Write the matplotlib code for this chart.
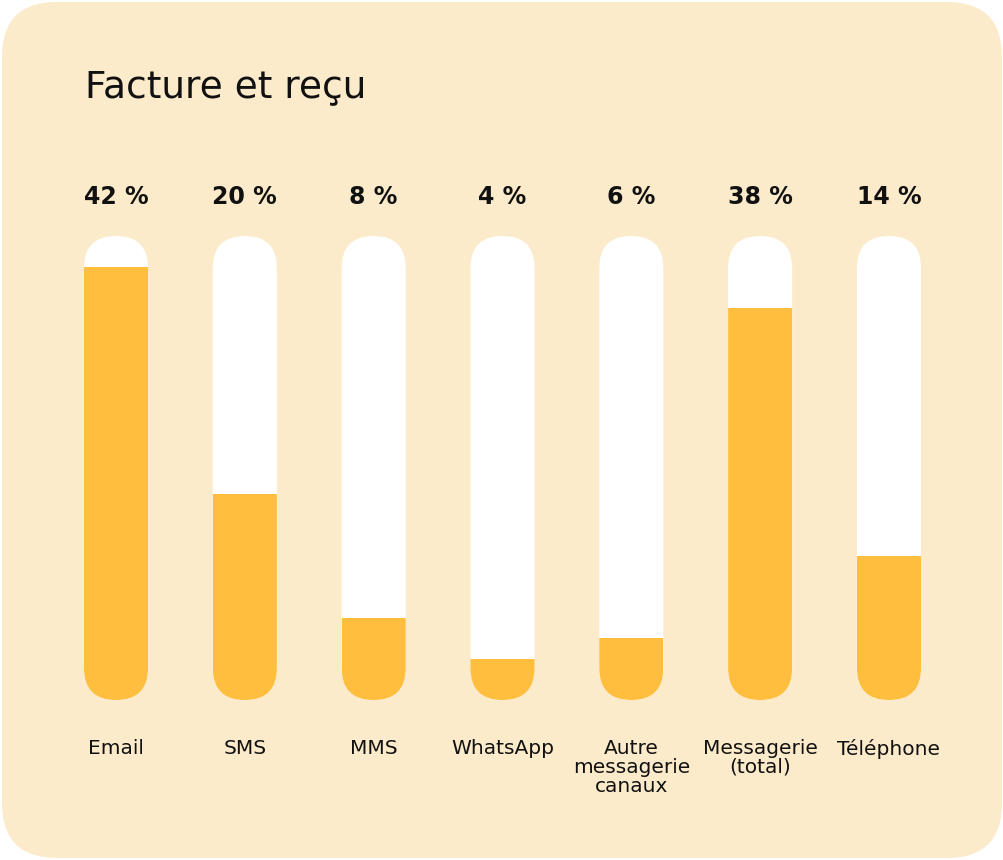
import matplotlib
matplotlib.use("Agg")
import matplotlib.pyplot as plt
from matplotlib.patches import FancyBboxPatch, Rectangle

categories = ["Email", "SMS", "MMS", "WhatsApp", "Autre\nmessagerie\ncanaux", "Messagerie\n(total)", "Téléphone"]
values = [42, 20, 8, 4, 6, 38, 14]
value_labels = ["42 %", "20 %", "8 %", "4 %", "6 %", "38 %", "14 %"]
title = "Facture et reçu"
scale_max = 45

BG = "#FCEBCB"; ORANGE = "#FFBE3D"
W, H = 1004, 860
fig = plt.figure(figsize=(W/100, H/100), dpi=100)
fig.patch.set_facecolor("white")
bgax = fig.add_axes([0, 0, 1, 1]); bgax.set_xlim(0, W); bgax.set_ylim(H, 0); bgax.axis("off")
bgax.add_patch(FancyBboxPatch((2, 2), W-4, H-4, boxstyle="round,pad=0,rounding_size=55",
                              fc=BG, ec="none"))
fig.text(85/W, 1-87/H, title, fontsize=27, family="DejaVu Sans", va="center", ha="left", color="#111")

ax = fig.add_axes([51.6/W, 160/H, 901.8/W, 464/H])
ax.set_xlim(-0.5, 6.5); ax.set_ylim(0, scale_max); ax.axis("off")
bw = 0.497
aspect = (scale_max/464) / (1/128.83)
for i, (v, lab, cat) in enumerate(zip(values, value_labels, categories)):
    bg = FancyBboxPatch((i-bw/2, 0), bw, scale_max, boxstyle=f"round,pad=0,rounding_size={bw/2}",
                        mutation_aspect=aspect, fc="white", ec="none")
    ax.add_patch(bg)
    r = Rectangle((i-bw/2, 0), bw, v, fc=ORANGE, ec="none")
    ax.add_patch(r); r.set_clip_path(bg)
    ax.annotate(lab, (i, scale_max), xytext=(0, 28), textcoords="offset points",
                ha="center", va="center", fontsize=17, fontweight="bold", color="#111")
    ax.annotate(cat, (i, 0), xytext=(0, -28), textcoords="offset points",
                ha="center", va="top", fontsize=14.5, color="#111", linespacing=1.0)
fig.savefig("out.png", dpi=100, facecolor="white")
